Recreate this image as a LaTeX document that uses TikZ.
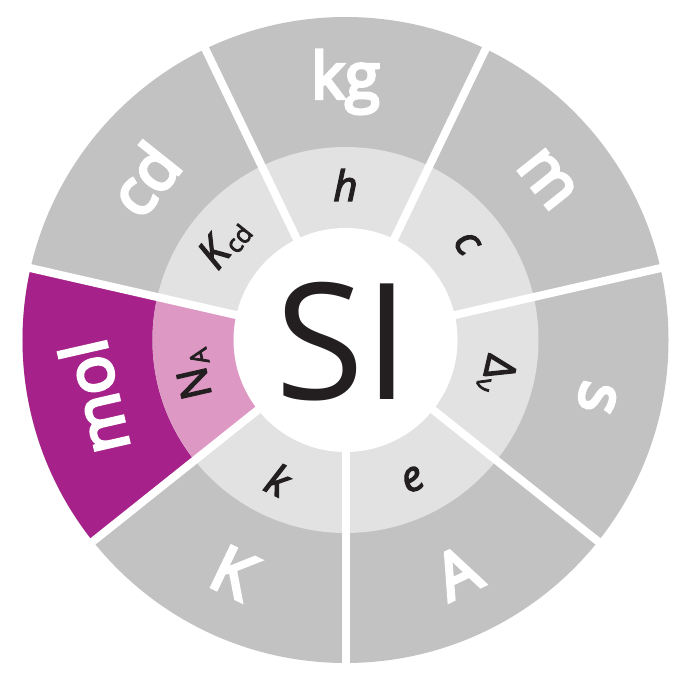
\documentclass[tikz,border=0pt]{standalone}
\usepackage{fontspec}
\setmainfont{Open Sans}
\newfontfamily\unitfont{Open Sans}[FakeBold=5]
\newfontfamily\constfont{Open Sans}[FakeBold=3]
\definecolor{unitgray}{RGB}{194,194,194}
\definecolor{constgray}{RGB}{226,226,226}
\definecolor{molpurple}{RGB}{166,34,138}
\definecolor{molpink}{RGB}{222,152,196}
\definecolor{inkblack}{RGB}{35,31,32}
\newcommand\lowtext[1]{\kern1.5pt\raisebox{-5pt}{\fontsize{25}{25}\selectfont #1}}
\begin{document}
\begin{tikzpicture}[x=1pt,y=1pt,
    unit/.style={text=white,font=\fontsize{64}{64}\unitfont},
    const/.style={text=inkblack,font=\fontsize{42}{42}\constfont}]
    \useasboundingbox (-345.5,-332) rectangle (346.5,340);
    % rings
    \fill[unitgray] (0,0) circle (323);
    \fill[molpurple] (0,0) -- (167.14:323) arc[start angle=167.14,end angle=218.57,radius=323] -- cycle;
    \fill[constgray] (0,0) circle (193);
    \fill[molpink] (0,0) -- (167.14:193) arc[start angle=167.14,end angle=218.57,radius=193] -- cycle;
    \foreach \k in {0,...,6}
        \draw[white,line width=8] (0,0) -- ({-90+\k*360/7}:326);
    \fill[white] (0,0) circle (112);
    \node[text=inkblack,font=\fontsize{162}{162}\selectfont] (si) at (-3,-2) {SI};
    % units and constants
    \foreach \t/\r/\u/\c [count=\i] in {
        90/0/kg/\itshape h,
        38.57/-51.43/m/\itshape c,
        -12.86/-102.86/s/Δ\lowtext{ν},
        -64.29/25.71/A/\itshape e,
        -115.71/-25.71/K/\itshape k,
        192.86/102.86/mol/N\lowtext{A},
        141.43/51.43/cd/{\itshape K}\lowtext{cd}}
    {
        \node[unit,rotate=\r] (unit\i) at (\t:258) {\u};
        \node[const,rotate=\r] (const\i) at (\t:155) {\c};
    }
\end{tikzpicture}
\end{document}
